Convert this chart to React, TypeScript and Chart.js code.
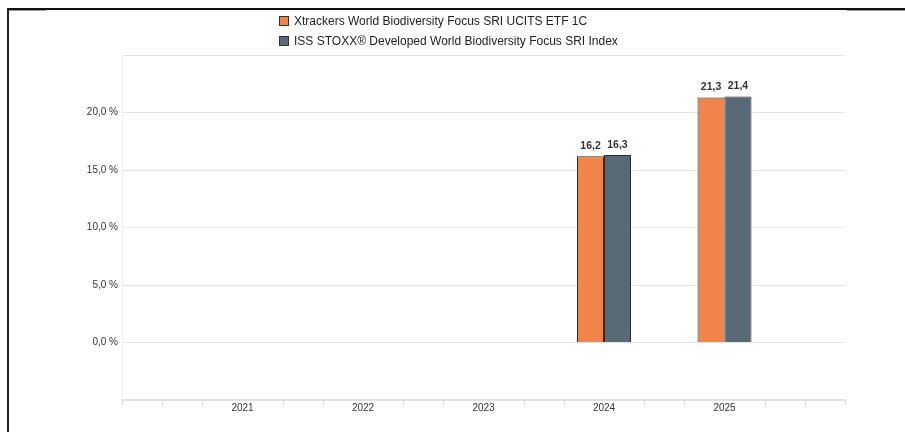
import React, { useEffect, useRef } from "react";
import { Chart, registerables } from "chart.js";

Chart.register(...registerables);

const years = ["2021", "2022", "2023", "2024", "2025"];
const etfValues: (number | null)[] = [null, null, null, 16.2, 21.3];
const indexValues: (number | null)[] = [null, null, null, 16.3, 21.4];
const seriesNames = [
  "Xtrackers World Biodiversity Focus SRI UCITS ETF 1C",
  "ISS STOXX® Developed World Biodiversity Focus SRI Index",
];
const seriesColors = ["#F0844A", "#586A76"];
const yTickValues = [0, 5, 10, 15, 20];

const FONT = "'Liberation Sans', Arial, Helvetica, sans-serif";

const fmt = (v: number) => v.toFixed(1).replace(".", ",");

const valueLabels = {
  id: "valueLabels",
  afterDatasetsDraw(chart: any) {
    const ctx = chart.ctx;
    ctx.save();
    ctx.font = `bold 10.5px ${FONT}`;
    ctx.fillStyle = "#333333";
    ctx.textAlign = "center";
    ctx.textBaseline = "bottom";
    chart.data.datasets.forEach((ds: any, i: number) => {
      const meta = chart.getDatasetMeta(i);
      meta.data.forEach((el: any, j: number) => {
        const v = ds.data[j];
        if (v === null || v === undefined) return;
        ctx.fillText(fmt(v), el.x, el.y - 5);
      });
    });
    ctx.restore();
  },
};

const minorTicks = {
  id: "minorTicks",
  afterDraw(chart: any) {
    const xs = chart.scales.x;
    const ctx = chart.ctx;
    const n = (xs.ticks.length - 1) * 3;
    ctx.save();
    ctx.strokeStyle = "#d9d9d9";
    ctx.lineWidth = 1;
    for (let k = 0; k <= n; k++) {
      if (k % 3 === 0 && k !== 0 && k !== n) continue;
      const x = Math.round(xs.left + (k * (xs.right - xs.left)) / n) + 0.5;
      ctx.beginPath();
      ctx.moveTo(x, xs.top);
      ctx.lineTo(x, xs.top + 5);
      ctx.stroke();
    }
    ctx.restore();
  },
};

export default function App() {
  const ref = useRef<HTMLCanvasElement | null>(null);

  useEffect(() => {
    document.body.style.margin = "0";
    const labels = ["", ...years, ""];
    const pad = (arr: (number | null)[]) => [null, ...arr, null];
    const chart = new Chart(ref.current as HTMLCanvasElement, {
      type: "bar",
      data: {
        labels,
        datasets: [
          {
            label: seriesNames[0],
            data: pad(etfValues),
            backgroundColor: seriesColors[0],
            borderColor: "#2b2b2b",
            borderWidth: 1,
          },
          {
            label: seriesNames[1],
            data: pad(indexValues),
            backgroundColor: seriesColors[1],
            borderColor: "#2b2b2b",
            borderWidth: 1,
          },
        ],
      },
      options: {
        animation: false,
        responsive: false,
        maintainAspectRatio: false,
        layout: { padding: { left: 0, right: 60, top: 55, bottom: 0 } },
        datasets: { bar: { categoryPercentage: 0.448, barPercentage: 1 } },
        plugins: {
          legend: { display: false },
          tooltip: { enabled: false },
        },
        scales: {
          x: {
            offset: false,
            grid: { display: false, drawTicks: false },
            border: { display: true, color: "#e2e2e2", width: 2 },
            ticks: {
              autoSkip: false,
              maxRotation: 0,
              padding: 2,
              color: "#333333",
              font: { family: FONT, size: 10 },
            },
            afterFit(scale: any) {
              scale.height = 32;
            },
          },
          y: {
            min: -5,
            max: 25,
            afterBuildTicks(scale: any) {
              scale.ticks = [-5, ...yTickValues, 25].map((v) => ({ value: v }));
            },
            grid: { color: "#e4e4e4", lineWidth: 1, drawTicks: false },
            border: { display: true, color: "#f0f0f0", width: 1 },
            ticks: {
              padding: 4,
              color: "#333333",
              font: { family: FONT, size: 10 },
              callback: (v: any) =>
                yTickValues.includes(Number(v)) ? `${fmt(Number(v))} %` : "",
            },
            afterFit(scale: any) {
              scale.width = 122;
            },
          },
        },
      },
      plugins: [valueLabels, minorTicks],
    } as any);
    return () => chart.destroy();
  }, []);

  return (
    <div style={{ position: "relative", width: 905, height: 432, fontFamily: FONT, background: "#fff" }}>
      <div style={{ position: "absolute", left: 7, top: 8, right: 0, bottom: 0, borderTop: "2px solid #111", borderLeft: "2px solid #222" }} />
      <div style={{ position: "absolute", left: 9, top: 10, width: 37, height: 1, background: "#999" }} />
      <div style={{ position: "absolute", left: 847, top: 10, width: 58, height: 1, background: "#999" }} />
      <canvas ref={ref} width={905} height={432} style={{ position: "absolute", left: 0, top: 0, width: 905, height: 432 }} />
      <div style={{ position: "absolute", left: 279, top: 11, fontSize: 12, color: "#222", lineHeight: "20px" }}>
        {seriesNames.map((name, i) => (
          <div key={name} style={{ display: "flex", alignItems: "center", height: 20, whiteSpace: "nowrap" }}>
            <span style={{ display: "inline-block", width: 8, height: 8, border: "1px solid #333", background: seriesColors[i], marginRight: 5 }} />
            <span>{name}</span>
          </div>
        ))}
      </div>
    </div>
  );
}
